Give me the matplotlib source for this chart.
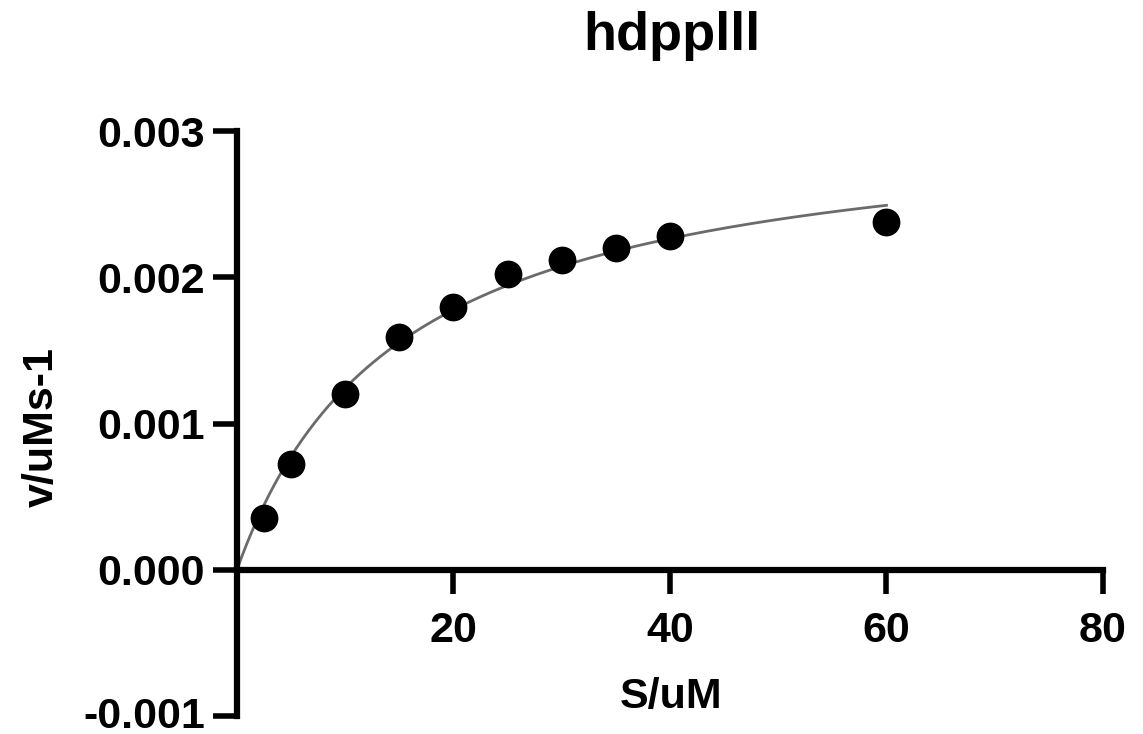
import numpy as np
import matplotlib
matplotlib.use("Agg")
from matplotlib import pyplot as plt
from matplotlib import transforms

# substrate concentration and initial rate
S = np.array([2.5, 5, 10, 15, 20, 25, 30, 35, 40, 60])
v = np.array([0.000356, 0.00072, 0.0012, 0.00159, 0.0018, 0.00202,
              0.00212, 0.0022, 0.00228, 0.00238])

x_ticks = [20, 40, 60, 80]
y_ticks = [-0.001, 0.0, 0.001, 0.002, 0.003]
y_tick_labels = ['-0.001', '0.000', '0.001', '0.002', '0.003']

plt.rcParams['font.family'] = ['Liberation Sans', 'DejaVu Sans']
plt.rcParams['font.weight'] = 'bold'


# Michaelis-Menten fit (simple grid over Km, least squares for Vmax)
def mm(s, vmax, km):
    return vmax * s / (km + s)


best = None
for km in np.linspace(1, 60, 5901):
    f = S / (km + S)
    vmax = np.sum(v * f) / np.sum(f * f)
    err = np.sum((v - vmax * f) ** 2)
    if best is None or err < best[0]:
        best = (err, vmax, km)
Vmax, Km = best[1], best[2]

fig = plt.figure(figsize=(11.43, 7.34), dpi=100)
ax = fig.add_axes([0.2073, 0.0245, 0.965 - 0.2073, 0.8215 - 0.0245])

s_fit = np.linspace(0, 60, 300)
ax.plot(s_fit, mm(s_fit, Vmax, Km), color='#6b6b6b', linewidth=2, zorder=2)
ax.plot(S, v, 'o', color='black', markersize=19, zorder=3)

ax.set_xlim(0, 80)
ax.set_ylim(-0.001, 0.003)

ax.spines['top'].set_visible(False)
ax.spines['right'].set_visible(False)
ax.spines['bottom'].set_position(('data', 0))
ax.spines['left'].set_linewidth(4.5)
ax.spines['bottom'].set_linewidth(4.5)
ax.spines['bottom'].set_capstyle('projecting')
ax.spines['left'].set_capstyle('projecting')

ax.set_xticks(x_ticks)
ax.set_yticks(y_ticks)
ax.set_yticklabels(y_tick_labels)
ax.tick_params(axis='both', length=17, width=4, labelsize=31)
ax.tick_params(axis='x', direction='out', pad=13)
ax.tick_params(axis='y', direction='out', pad=6)
for lab in ax.get_xticklabels() + ax.get_yticklabels():
    lab.set_fontweight('bold')

# lowest label sits right at the bottom edge; nudge it up a touch
low = ax.get_yticklabels()[0]
low.set_transform(low.get_transform() +
                  transforms.ScaledTranslation(0, 4 / 100, fig.dpi_scale_trans))

fig.text(0.587, 0.023, 'S/uM', fontsize=31, fontweight='bold', ha='center', va='bottom')
fig.text(0.037, 0.418, 'v/uMs-1', fontsize=31, fontweight='bold', rotation=90,
         ha='center', va='center')
fig.text(0.5875, 0.951, 'hdpplll', fontsize=39, fontweight='bold', ha='center', va='center')

fig.savefig('out.png', dpi=100)
